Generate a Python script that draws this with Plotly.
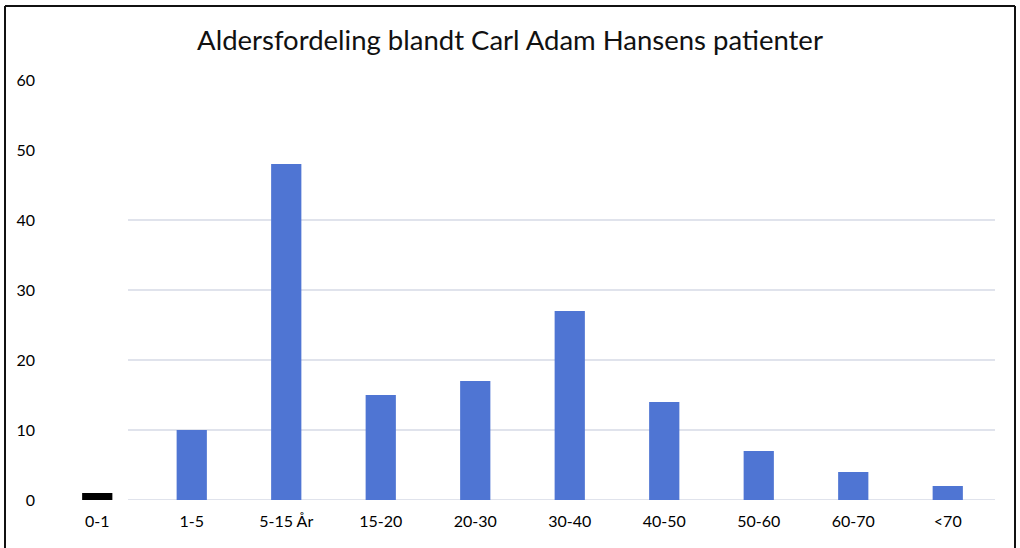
import plotly.graph_objects as go

categories = ["0-1", "1-5", "5-15 År", "15-20", "20-30", "30-40", "40-50", "50-60", "60-70", "<70"]
values = [1, 10, 48, 15, 17, 27, 14, 7, 4, 2]
bar_colors = ["#000000"] + ["#4f75d3"] * 9
grid_values = [0, 10, 20, 30, 40]
y_ticks = [0, 10, 20, 30, 40, 50, 60]
title_text = "Aldersfordeling blandt Carl Adam Hansens patienter"

W, H = 1020, 548
L, R, T, B = 50, 25, 80, 48
PW, PH = W - L - R, H - T - B

fig = go.Figure()
fig.add_trace(go.Bar(x=categories, y=values, marker=dict(color=bar_colors, line=dict(width=0)),
                     width=0.32, hoverinfo="x+y"))

# gridlines (start right of first category as in the reference)
grid_x0 = (128 - L) / PW
shapes = []
for g in grid_values:
    shapes.append(dict(type="line", xref="paper", yref="y", x0=grid_x0, x1=1, y0=g, y1=g,
                       line=dict(color="#d6dae6", width=1.3), layer="below"))
# outer frame (no bottom edge visible in the reference)
fx0, fx1 = (5 - L) / PW, (1015 - L) / PW
fy_top = 1 + (T - 6) / PH
fy_bot = -(B + 20) / PH
frame = dict(color="#111111", width=2)
shapes.append(dict(type="line", xref="paper", yref="paper", x0=fx0, x1=fx1, y0=fy_top, y1=fy_top, line=frame))
shapes.append(dict(type="line", xref="paper", yref="paper", x0=fx0, x1=fx0, y0=fy_top, y1=fy_bot, line=frame))
shapes.append(dict(type="line", xref="paper", yref="paper", x0=fx1, x1=fx1, y0=fy_top, y1=fy_bot, line=frame))

fig.update_layout(
    width=W, height=H,
    margin=dict(l=L, r=R, t=T, b=B),
    paper_bgcolor="white", plot_bgcolor="white",
    showlegend=False,
    bargap=0.68,
    shapes=shapes,
    title=dict(text=title_text, x=0.5, xanchor="center", xref="container",
               y=1 - 40 / H, yanchor="middle", yref="container",
               font=dict(family="Lato, Open Sans, sans-serif", size=27.5, color="#111111")),
    font=dict(family="Lato, Open Sans, sans-serif", color="#111111"),
    xaxis=dict(showgrid=False, zeroline=False, showline=False, ticks="",
               tickfont=dict(size=16, color="#000000"), ticklabelstandoff=10),
    yaxis=dict(range=[0, 60], tickvals=y_ticks, showgrid=False, zeroline=False, showline=False,
               ticks="", tickfont=dict(size=16, color="#000000"), ticklabelstandoff=14),
)

fig.write_html("out.html", config={"displayModeBar": False},
               post_script="document.body.style.margin='0';document.body.style.overflow='hidden';")
